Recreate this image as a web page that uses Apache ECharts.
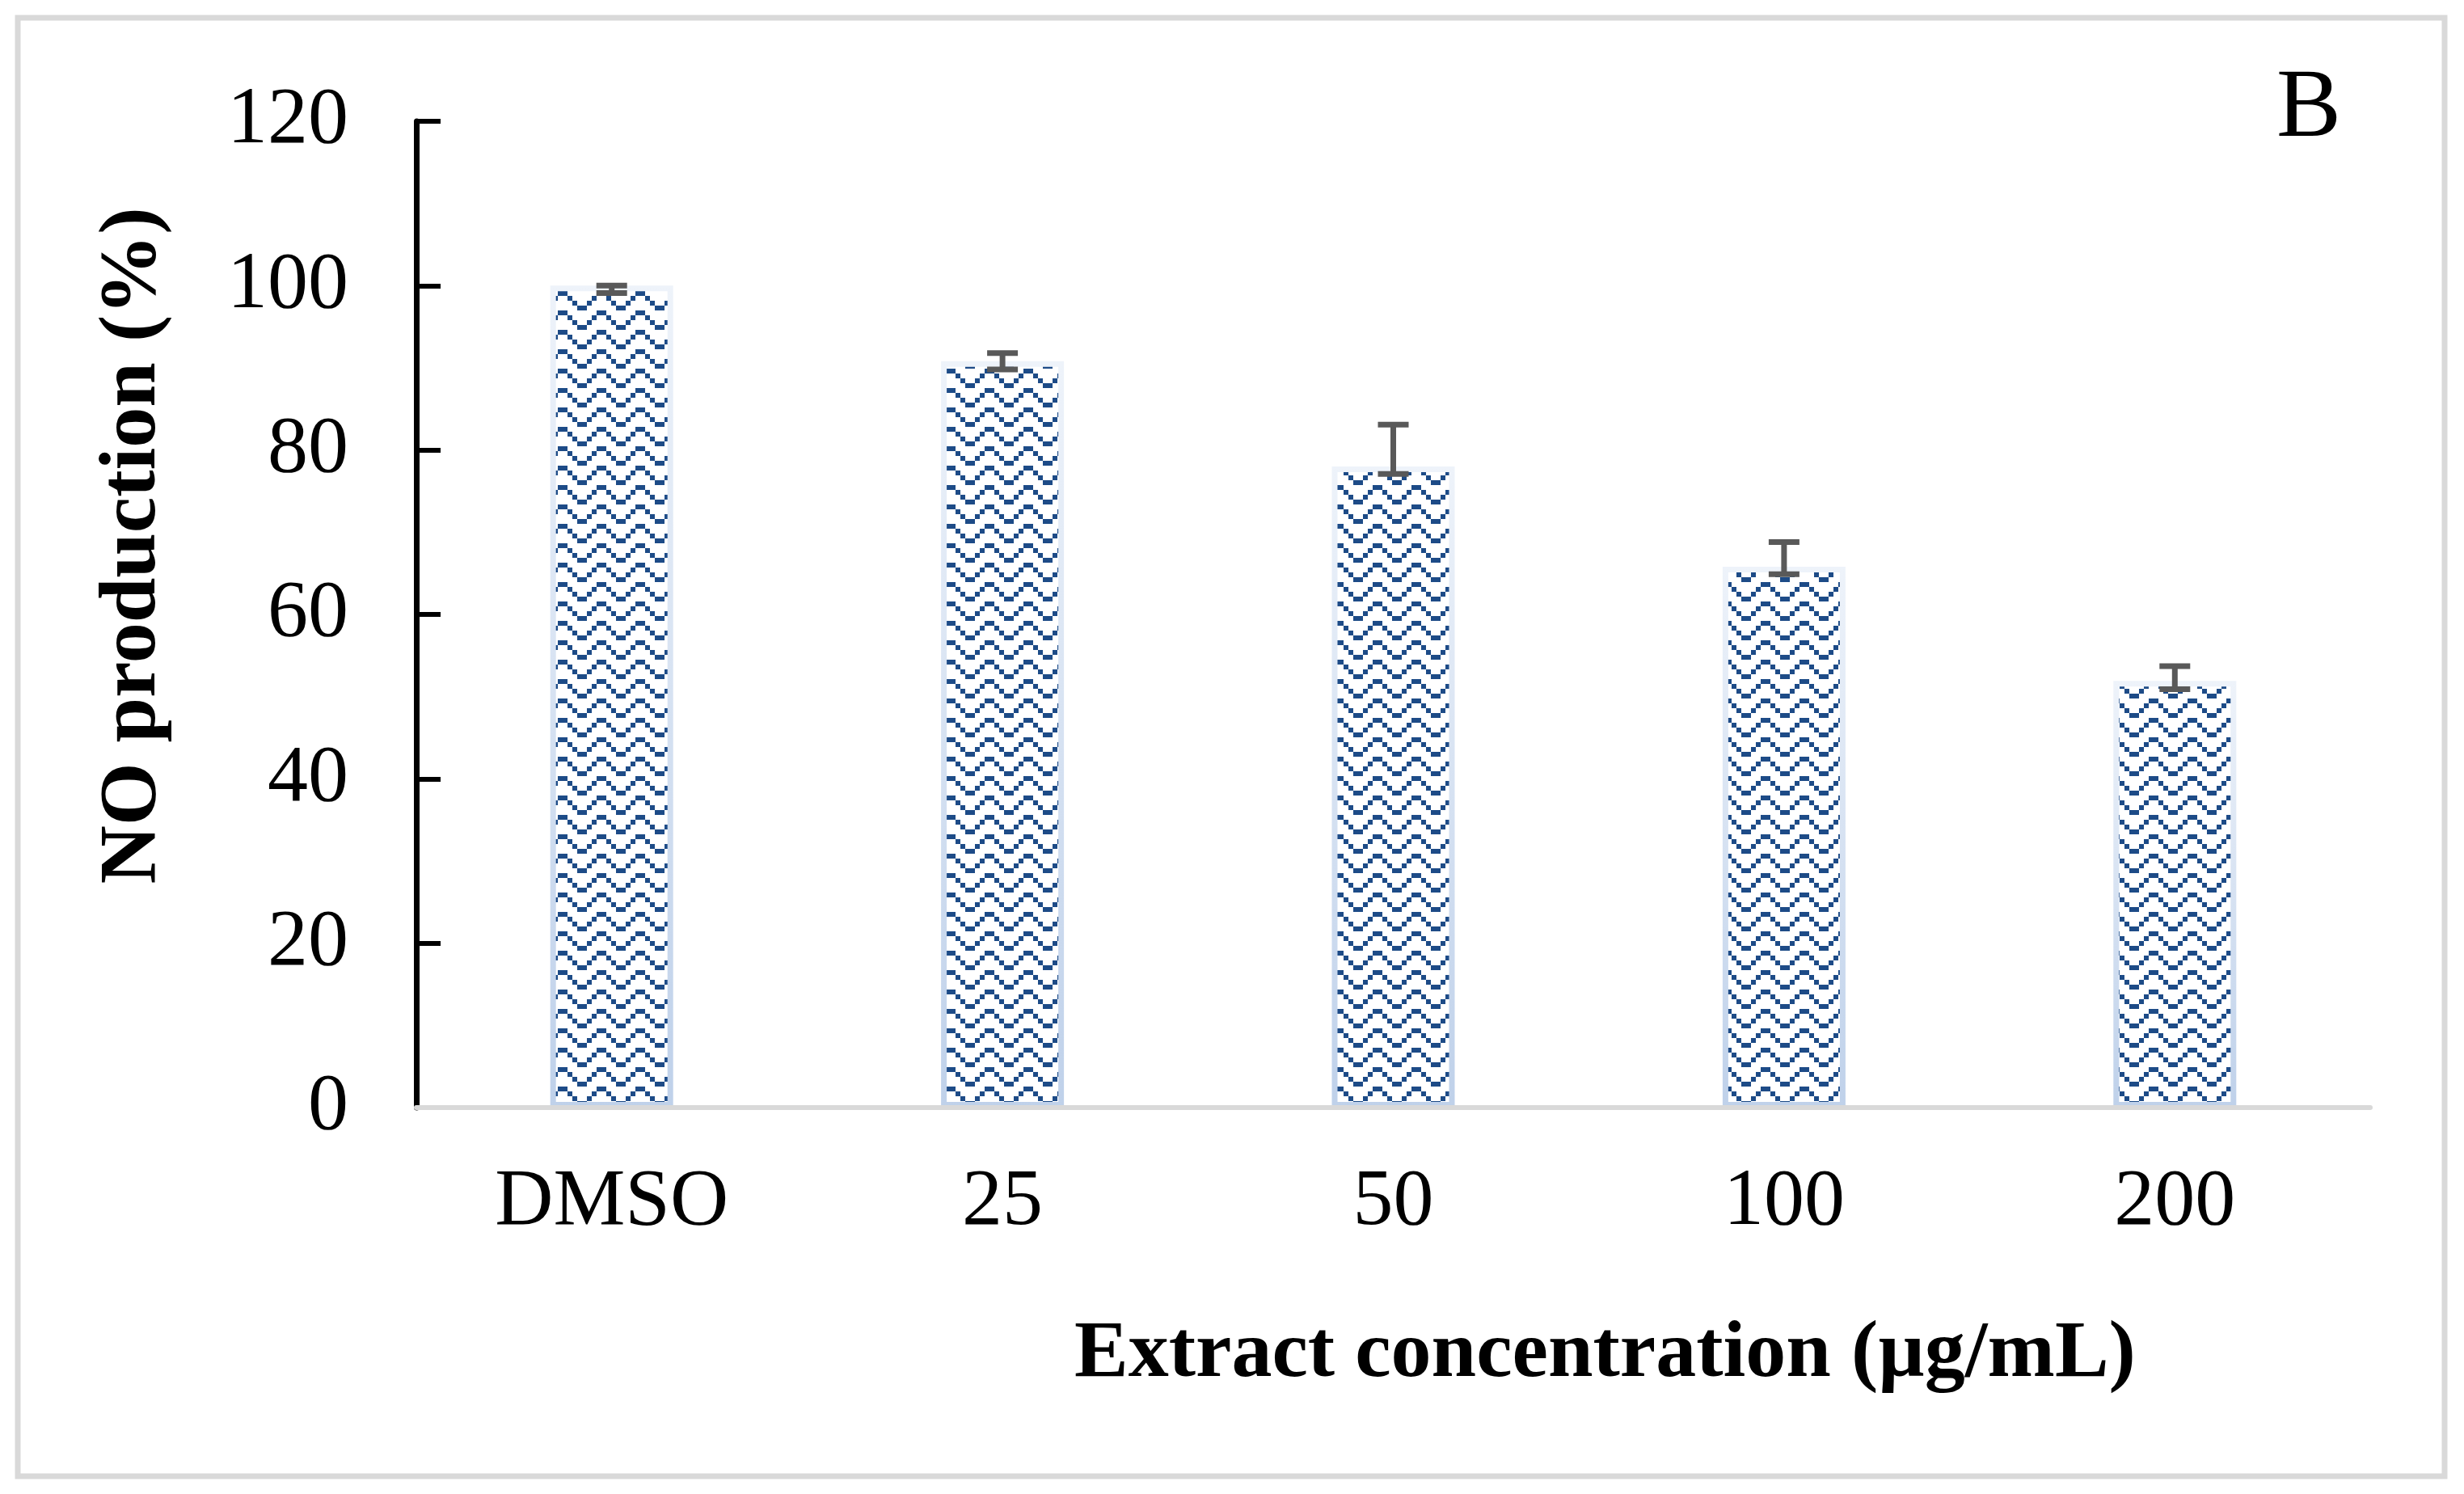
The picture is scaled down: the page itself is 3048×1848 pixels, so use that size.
<!DOCTYPE html>
<html>
<head>
<meta charset="utf-8">
<script src="https://cdn.jsdelivr.net/npm/echarts@6/dist/echarts.min.js"></script>
<style>html,body{margin:0;padding:0;background:#fff;}#c{width:3048px;height:1848px;}</style>
</head>
<body>
<div id="c"></div>
<script>
const categories = ['DMSO', '25', '50', '100', '200'];
const values = [100.0, 90.8, 78.0, 65.8, 51.9];
const errLow = [99.1, 89.8, 77.1, 64.9, 50.9];
const errHigh = [100.0, 91.8, 83.1, 68.8, 53.7];
const yTicks = { min: 0, max: 120, interval: 20 };

// zig-zag pattern (Excel-like), 8x4 cells of 6px
function makePattern() {
  const u = 6;
  const cv = document.createElement('canvas');
  cv.width = 8 * u; cv.height = 4 * u;
  const ctx = cv.getContext('2d');
  ctx.fillStyle = '#ffffff';
  ctx.fillRect(0, 0, cv.width, cv.height);
  ctx.fillStyle = '#1d4b87';
  const cells = [[3,0],[4,0],[2,1],[5,1],[1,2],[6,2],[0,3],[7,3]];
  cells.forEach(([cx, cy]) => ctx.fillRect(cx * u, cy * u, u, u));
  return cv;
}

const chart = echarts.init(document.getElementById('c'), null, { renderer: 'canvas', devicePixelRatio: 1 });
const serif = '"Liberation Serif", "Times New Roman", serif';

chart.setOption({
  backgroundColor: '#ffffff',
  animation: false,
  title: {
    text: 'B', left: 2816, top: 76, padding: 0,
    textStyle: { fontFamily: serif, fontSize: 120, fontWeight: 'normal', color: '#000' }
  },
  graphic: [{
    type: 'rect', silent: true,
    shape: { x: 22, y: 22, width: 3002, height: 1804 },
    style: { fill: 'none', stroke: '#d9d9d9', lineWidth: 7 }
  }],
  grid: { left: 515, right: 116, top: 150, bottom: 478, containLabel: false },
  xAxis: {
    type: 'category',
    data: categories,
    z: 4,
    axisLine: { lineStyle: { color: '#d9d9d9', width: 6 } },
    axisTick: { show: false },
    axisLabel: { fontFamily: serif, fontSize: 100, color: '#000', margin: 68 },
    name: 'Extract concentration (µg/mL)',
    nameLocation: 'middle',
    nameGap: 256,
    nameTextStyle: { fontFamily: serif, fontSize: 100, fontWeight: 'bold', color: '#000', padding: [0, 0, 0, 524] }
  },
  yAxis: {
    type: 'value',
    z: 3,
    min: yTicks.min, max: yTicks.max, interval: yTicks.interval,
    splitLine: { show: false },
    axisLine: { show: true, lineStyle: { color: '#000', width: 7 } },
    axisTick: { show: true, inside: true, length: 30, lineStyle: { color: '#000', width: 6 } },
    axisLabel: { fontFamily: serif, fontSize: 100, color: '#000', margin: 84 },
    name: 'NO production (%)',
    nameLocation: 'middle',
    nameRotate: 90,
    nameGap: 300,
    nameTextStyle: { fontFamily: serif, fontSize: 100, fontWeight: 'bold', color: '#000', padding: [0, 0, 0, 170] }
  },
  series: [
    {
      type: 'bar',
      data: values,
      barWidth: 152,
      itemStyle: {
        color: { image: makePattern(), repeat: 'repeat' },
        borderColor: new echarts.graphic.LinearGradient(0, 0, 0, 1, [
          { offset: 0, color: '#eef3fa' },
          { offset: 1, color: '#bfd1ea' }
        ]),
        borderWidth: 7
      },
      z: 2
    },
    {
      type: 'custom',
      z: 5,
      data: categories.map((c, i) => [i, errLow[i], errHigh[i]]),
      encode: { x: 0, y: [1, 2] },
      renderItem: function (params, api) {
        const x = api.value(0);
        const lo = api.coord([x, api.value(1)]);
        const hi = api.coord([x, api.value(2)]);
        const hw = 19;
        const st = { stroke: '#595959', lineWidth: 7 };
        return {
          type: 'group',
          children: [
            { type: 'line', shape: { x1: lo[0], y1: lo[1], x2: hi[0], y2: hi[1] }, style: st },
            { type: 'line', shape: { x1: lo[0] - hw, y1: lo[1], x2: lo[0] + hw, y2: lo[1] }, style: st },
            { type: 'line', shape: { x1: hi[0] - hw, y1: hi[1], x2: hi[0] + hw, y2: hi[1] }, style: st }
          ]
        };
      }
    }
  ]
});
</script>
</body>
</html>
